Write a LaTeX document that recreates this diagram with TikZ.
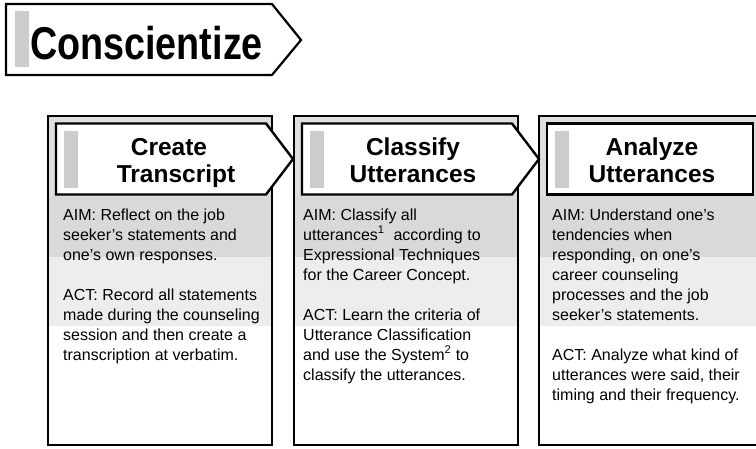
\documentclass[tikz,border=0pt]{standalone}
\usepackage{fontspec}
\setmainfont{Liberation Sans}
\definecolor{topfill}{HTML}{DEDEDE}
\definecolor{aimfill}{HTML}{D9D9D9}
\definecolor{actfill}{HTML}{EDEDED}
\definecolor{barfill}{HTML}{CCCCCC}
\tikzset{
  frame/.style={draw=black, line width=2pt},
  hdrbox/.style={draw=black, fill=white, line width=2.4pt, line join=miter},
  titlebox/.style={draw=black, fill=white, line width=2.2pt, line join=miter},
  hdrtxt/.style={anchor=base, inner sep=0pt, font=\bfseries\fontsize{24.5}{27}\selectfont},
  bodytxt/.style={anchor=base west, inner sep=0pt, font=\fontsize{16}{20}\selectfont},
  titletxt/.style={anchor=base west, inner sep=0pt, font=\bfseries\fontsize{46}{50}\selectfont},
}
\begin{document}
\begin{tikzpicture}[x=1pt,y=-1pt]
\useasboundingbox (0,0) rectangle (756,448);
\clip (0,0) rectangle (756,448);

% title
\draw[titlebox] (6,4) -- (272,4) -- (301,40) -- (272,75) -- (6,75) -- cycle;
\fill[barfill] (15,11) rectangle (29,67);
\node[titletxt] (title) at (30,59) {\scalebox{0.82}[1]{Conscientize}};

% column frames and bands
\foreach \L in {48,294,539} {
  \fill[topfill] (\L,116) rectangle (\L+224,196);
  \fill[aimfill] (\L,196) rectangle (\L+224,257);
  \fill[actfill] (\L,257) rectangle (\L+224,326);
  \draw[frame] (\L,116) rectangle (\L+224,445);
}

% headers
\foreach \L in {48,294} {
  \draw[hdrbox] (\L+8,123.5) -- (\L+218,123.5) -- (\L+245,159) -- (\L+218,194.5) -- (\L+8,194.5) -- cycle;
  \fill[barfill] (\L+16,131) rectangle (\L+30,188);
}
\draw[hdrbox] (547,123.5) rectangle (753,194.5);
\fill[barfill] (555,131) rectangle (569,188);

\node[hdrtxt] (h1a) at (169,155) {Create};
\node[hdrtxt] (h1b) at (176,182) {Transcript};
\node[hdrtxt] (h2a) at (413,155) {Classify};
\node[hdrtxt] (h2b) at (413,182) {Utterances};
\node[hdrtxt] (h3a) at (652,155) {Analyze};
\node[hdrtxt] (h3b) at (652,182) {Utterances};

% body text
\foreach \t [count=\i] in {AIM: Reflect on the job, seeker's statements and, one's own responses., , ACT: Record all statements, made during the counseling, session and then create a, transcription at verbatim.}
  \node[bodytxt] (c1l\i) at (63,200+20*\i) {\t};
\foreach \t [count=\i] in {AIM: Classify all, utterances\textsuperscript{1}\ \ according to, Expressional Techniques, for the Career Concept., , ACT: Learn the criteria of, Utterance Classification, and use the System\textsuperscript{2} to, classify the utterances.}
  \node[bodytxt] (c2l\i) at (303,200+20*\i) {\t};
\foreach \t [count=\i] in {AIM: Understand one's, tendencies when, {responding, on one's}, career counseling, processes and the job, seeker's statements., , ACT: Analyze what kind of, {utterances were said, their}, timing and their frequency.}
  \node[bodytxt] (c3l\i) at (552,200+20*\i) {\t};
\end{tikzpicture}
\end{document}
